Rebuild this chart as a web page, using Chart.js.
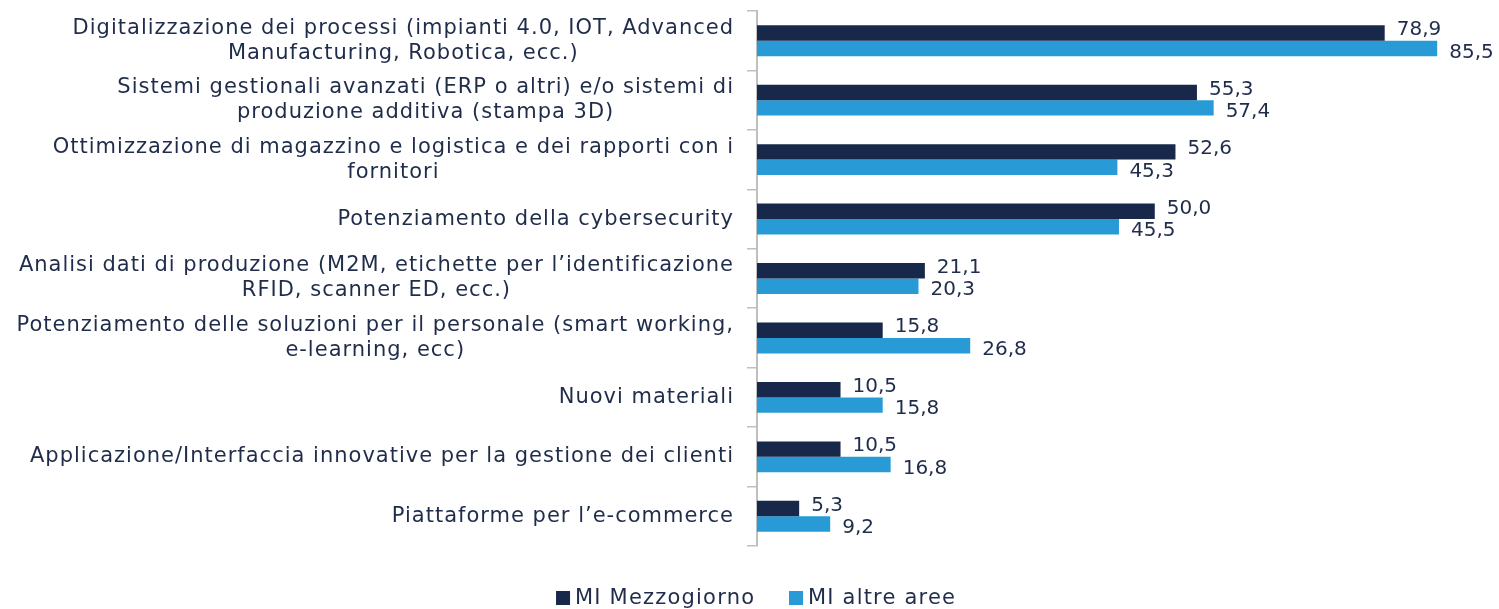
<!DOCTYPE html>
<html>
<head>
<meta charset="utf-8">
<script src="https://cdn.jsdelivr.net/npm/chart.js@4"></script>
<style>
  html, body { margin: 0; padding: 0; background: #fff; }
  #wrap { width: 1499px; height: 609px; }
</style>
</head>
<body>
<div id="wrap"><canvas id="chart"></canvas></div>
<script>
// Categories (multi-line labels, as in the original)
const categories = [
    ['Digitalizzazione dei processi (impianti 4.0, IOT, Advanced', 'Manufacturing, Robotica, ecc.)'],
    ['Sistemi gestionali avanzati (ERP o altri) e/o sistemi di', 'produzione additiva (stampa 3D)'],
    ['Ottimizzazione di magazzino e logistica e dei rapporti con i', 'fornitori'],
    ['Potenziamento della cybersecurity'],
    ['Analisi dati di produzione (M2M, etichette per l\u2019identificazione', 'RFID, scanner ED, ecc.)'],
    ['Potenziamento delle soluzioni per il personale (smart working,', 'e-learning, ecc)'],
    ['Nuovi materiali'],
    ['Applicazione/Interfaccia innovative per la gestione dei clienti'],
    ['Piattaforme per l\u2019e-commerce']
];

const seriesNames = ['MI Mezzogiorno', 'MI altre aree'];
const mezzogiorno = [78.9, 55.3, 52.6, 50.0, 21.1, 15.8, 10.5, 10.5, 5.3];
const altreAree = [85.5, 57.4, 45.3, 45.5, 20.3, 26.8, 15.8, 16.8, 9.2];

const FONT = "'DejaVu Sans', sans-serif";
const TEXT = '#1f2c4a';
const DARK = '#17284a';
const LIGHT = '#289bd7';
const SPACING = 1.0;

const fmt = v => v.toFixed(1).replace('.', ',');

// category labels: block right-aligned to the axis, lines centered within the block
const categoryLabels = {
    id: 'categoryLabels',
    afterDraw(chart) {
        const { ctx } = chart;
        const y = chart.scales.y;
        const right = chart.chartArea.left - 24 + SPACING;
        const lineH = 25;
        ctx.save();
        ctx.font = '21px ' + FONT;
        ctx.letterSpacing = SPACING + 'px';
        ctx.fillStyle = TEXT;
        ctx.textAlign = 'center';
        ctx.textBaseline = 'middle';
        categories.forEach((lines, i) => {
            const cy = y.getPixelForValue(i);
            const w = Math.max(...lines.map(l => ctx.measureText(l).width));
            const cx = right - w / 2;
            lines.forEach((line, k) => {
                ctx.fillText(line, cx, cy + (k - (lines.length - 1) / 2) * lineH);
            });
        });
        ctx.restore();
    }
};

// value labels at the end of every bar
const valueLabels = {
    id: 'valueLabels',
    afterDatasetsDraw(chart) {
        const { ctx } = chart;
        ctx.save();
        ctx.font = '20px ' + FONT;
        ctx.fillStyle = TEXT;
        ctx.textAlign = 'left';
        ctx.textBaseline = 'middle';
        chart.data.datasets.forEach((ds, di) => {
            const meta = chart.getDatasetMeta(di);
            const dy = di === 0 ? -3 : 4;
            meta.data.forEach((bar, i) => {
                ctx.fillText(fmt(ds.data[i]), bar.x + 12, bar.y + dy);
            });
        });
        ctx.restore();
    }
};

// legend under the chart: square marker + series name
const bottomLegend = {
    id: 'bottomLegend',
    afterDraw(chart) {
        const { ctx } = chart;
        const box = 14, gap = 5, itemGap = 35, cy = chart.height - 11;
        ctx.save();
        ctx.font = '21px ' + FONT;
        ctx.letterSpacing = '1.2px';
        ctx.textBaseline = 'middle';
        ctx.textAlign = 'left';
        const widths = chart.data.datasets.map(ds => ctx.measureText(ds.label).width - 1.2);
        const total = widths.reduce((a, w) => a + box + gap + w, 0) + itemGap * (widths.length - 1);
        let x = chart.width / 2 + 6 - total / 2;
        chart.data.datasets.forEach((ds, i) => {
            ctx.fillStyle = ds.backgroundColor;
            ctx.fillRect(x, cy - box / 2, box, box);
            ctx.fillStyle = TEXT;
            ctx.fillText(ds.label, x + box + gap, cy + 1);
            x += box + gap + widths[i] + itemGap;
        });
        ctx.restore();
    }
};

new Chart(document.getElementById('chart'), {
    type: 'bar',
    data: {
        labels: categories.map(c => c.join(' ')),
        datasets: [
            { label: seriesNames[0], data: mezzogiorno, backgroundColor: DARK },
            { label: seriesNames[1], data: altreAree, backgroundColor: LIGHT }
        ]
    },
    options: {
        indexAxis: 'y',
        responsive: true,
        maintainAspectRatio: false,
        animation: false,
        layout: { padding: { top: 11, right: 26, bottom: 63, left: 0 } },
        datasets: {
            bar: { categoryPercentage: 0.52, barPercentage: 1.0 }
        },
        plugins: {
            tooltip: { enabled: false },
            legend: { display: false }
        },
        scales: {
            x: { display: false, min: 0, max: 90 },
            y: {
                afterFit(scale) { scale.width = 757; },
                ticks: { display: false },
                grid: {
                    display: true,
                    drawOnChartArea: false,
                    drawTicks: true,
                    tickLength: 10,
                    color: '#bfbfbf',
                    lineWidth: 1.5
                },
                border: { display: true, color: '#bfbfbf', width: 2 }
            }
        }
    },
    plugins: [categoryLabels, valueLabels, bottomLegend]
});
</script>
</body>
</html>
